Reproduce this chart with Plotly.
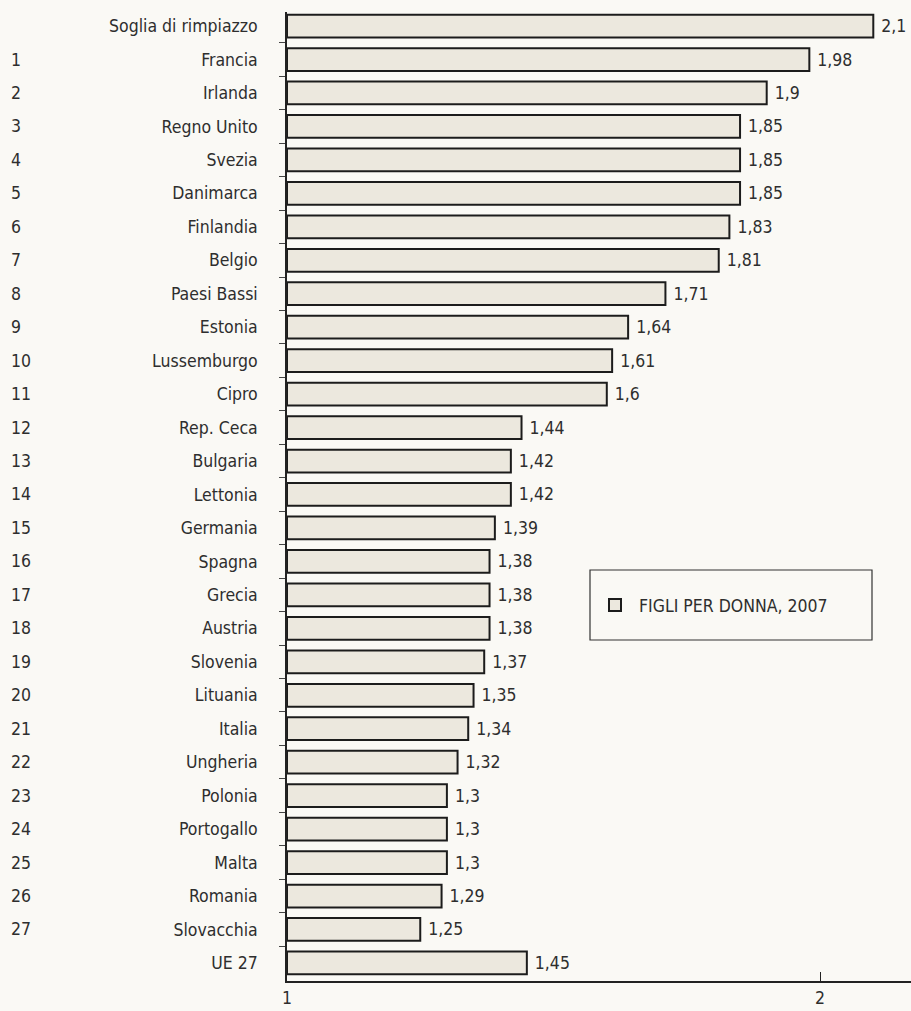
import plotly.graph_objects as go

names = ["Soglia di rimpiazzo", "Francia", "Irlanda", "Regno Unito", "Svezia", "Danimarca",
         "Finlandia", "Belgio", "Paesi Bassi", "Estonia", "Lussemburgo", "Cipro", "Rep. Ceca",
         "Bulgaria", "Lettonia", "Germania", "Spagna", "Grecia", "Austria", "Slovenia",
         "Lituania", "Italia", "Ungheria", "Polonia", "Portogallo", "Malta", "Romania",
         "Slovacchia", "UE 27"]
values = [2.1, 1.98, 1.9, 1.85, 1.85, 1.85, 1.83, 1.81, 1.71, 1.64, 1.61, 1.6, 1.44,
          1.42, 1.42, 1.39, 1.38, 1.38, 1.38, 1.37, 1.35, 1.34, 1.32, 1.3, 1.3, 1.3, 1.29,
          1.25, 1.45]
ranks = [""] + [str(i) for i in range(1, 28)] + [""]
x_ticks = [1, 2]
legend_label = "FIGLI PER DONNA, 2007"

FONT = "DejaVu Sans Condensed, Liberation Sans Narrow, Liberation Sans, sans-serif"
FS = 17.5
TXT = "#2e2e2e"
BG = "#faf9f5"
BASE = 1

ypos = list(range(len(names)))
labels = [("%g" % v).replace(".", ",") for v in values]

fig = go.Figure()
fig.add_trace(go.Bar(
    y=ypos, x=[v - BASE for v in values], base=BASE, orientation="h",
    width=0.68, name=legend_label,
    marker=dict(color="#ece8de", line=dict(color="#1c1c1c", width=2)),
    text=labels, texttemplate=" %{text}", textposition="outside",
    textfont=dict(family=FONT, size=FS, color=TXT), cliponaxis=False,
))

for i, r in enumerate(ranks):
    if r:
        fig.add_annotation(x=(9 - 287) / 624, xref="paper", y=i, yref="y", text=r,
                           showarrow=False, xanchor="left",
                           font=dict(family=FONT, size=FS, color=TXT))

# legend box
fig.add_shape(type="rect", xref="paper", yref="paper",
              x0=(590 - 287) / 624, x1=(872 - 287) / 624,
              y0=1 - (640 - 12) / 969, y1=1 - (570 - 12) / 969,
              line=dict(color="#333333", width=1.2), fillcolor="rgba(0,0,0,0)")

fig.update_layout(
    width=911, height=1011,
    margin=dict(l=287, r=0, t=12, b=30),
    paper_bgcolor=BG, plot_bgcolor=BG,
    font=dict(family=FONT, size=FS, color=TXT),
    showlegend=True,
    legend=dict(x=(591 - 287) / 624, y=1 - (605 - 12) / 969, xanchor="left", yanchor="middle",
                bgcolor="rgba(0,0,0,0)", borderwidth=0, itemwidth=38,
                font=dict(family=FONT, size=FS, color=TXT)),
    bargap=0.3,
)
fig.update_xaxes(range=[1, 1 + 624 / 533], tickvals=x_ticks, ticktext=[str(t) for t in x_ticks],
                 ticks="inside", ticklen=9, tickwidth=1.2, tickcolor="#222",
                 showline=True, linecolor="#222", linewidth=1.5, showgrid=False, zeroline=False,
                 tickfont=dict(family=FONT, size=FS, color=TXT))
fig.update_yaxes(range=[28.54, -0.42], tickvals=ypos, ticktext=names, ticks="",
                 showline=True, linecolor="#222", linewidth=1.5, showgrid=False, zeroline=False,
                 ticklabelstandoff=24,
                 minor=dict(tickvals=[i - 0.5 for i in ypos], ticks="outside", ticklen=6,
                            tickwidth=1, tickcolor="#444", showgrid=False),
                 tickfont=dict(family=FONT, size=FS, color=TXT))

fig.write_html("out.html", config={"displayModeBar": False})
with open("out.html", encoding="utf-8") as f:
    html = f.read()
html = html.replace("<head>", "<head><style>html,body{margin:0;padding:0;overflow:hidden;}</style>", 1)
with open("out.html", "w", encoding="utf-8") as f:
    f.write(html)
